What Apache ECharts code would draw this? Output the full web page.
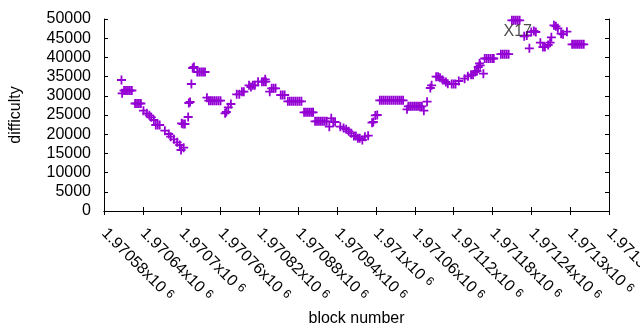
<!DOCTYPE html>
<html>
<head>
<meta charset="utf-8">
<script src="https://cdn.jsdelivr.net/npm/echarts@6/dist/echarts.min.js"></script>
<style>
  html, body { margin: 0; padding: 0; background: #fff; }
  #chart { width: 640px; height: 330px; }
</style>
</head>
<body>
<div id="chart"></div>
<script>
// data: [block number, difficulty]
const blockDifficulty = [
  [1970607, 34115], [1970608, 30650],
  [1970611, 31380], [1970614, 31380], [1970617, 31380], [1970620, 31380], [1970623, 31380],
  [1970628, 27995], [1970631, 27995], [1970634, 27995], [1970637, 27995],
  [1970641, 26120], [1970646, 25440], [1970650, 24920], [1970653, 24400], [1970657, 23700],
  [1970660, 22400], [1970663, 22400], [1970666, 22400],
  [1970674, 20910], [1970680, 20050], [1970683, 19350], [1970688, 18670], [1970693, 17890],
  [1970697, 17190], [1970699, 15890], [1970703, 16490],
  [1970700, 22840], [1970702, 22660], [1970705, 22660], [1970710, 24480], [1970711, 28125],
  [1970713, 28385], [1970715, 33070], [1970717, 37240], [1970719, 37500],
  [1970724, 36200], [1970727, 36200], [1970730, 36200], [1970733, 36200], [1970736, 36200],
  [1970739, 29510],
  [1970742, 28720], [1970745, 28720], [1970748, 28720], [1970751, 28720], [1970754, 28720],
  [1970757, 28720], [1970760, 28720],
  [1970767, 25440], [1970769, 25780], [1970772, 27000], [1970776, 27860],
  [1970785, 30390], [1970789, 30390], [1970793, 31070], [1970796, 31070],
  [1970804, 32730], [1970807, 32290], [1970810, 32730], [1970813, 32730],
  [1970818, 33670], [1970824, 33670], [1970827, 33670], [1970829, 34300], [1970830, 33670],
  [1970836, 31070], [1970839, 31950], [1970842, 31950], [1970845, 31950],
  [1970853, 30210], [1970856, 30210], [1970859, 30210],
  [1970864, 28570], [1970867, 28570], [1970870, 28570], [1970873, 28570], [1970876, 28570],
  [1970879, 28570], [1970882, 28570], [1970885, 28570],
  [1970889, 25700], [1970892, 25700], [1970895, 25700], [1970898, 25700], [1970901, 25700],
  [1970903, 25700],
  [1970906, 23360], [1970909, 23360], [1970912, 23360], [1970915, 23360], [1970918, 23360],
  [1970921, 23360], [1970924, 23360],
  [1970928, 21950], [1970931, 24140], [1970934, 23180], [1970937, 23180],
  [1970945, 21950], [1970950, 21600], [1970954, 21280], [1970958, 20750], [1970962, 20230],
  [1970966, 19530], [1970969, 19530], [1970972, 18930], [1970975, 18930], [1970979, 18490],
  [1970983, 19350], [1970988, 19610],
  [1970994, 23000], [1970996, 23180], [1970999, 24900], [1971002, 25000],
  [1971006, 28830], [1971009, 28830], [1971012, 28830], [1971015, 28830], [1971018, 28830],
  [1971021, 28830], [1971024, 28830], [1971027, 28830], [1971030, 28830], [1971033, 28830],
  [1971036, 28830], [1971039, 28830], [1971042, 28830],
  [1971048, 26480],
  [1971050, 27265], [1971053, 27265], [1971056, 27265], [1971059, 27265], [1971062, 27265],
  [1971065, 27265], [1971068, 27265], [1971071, 27265],
  [1971074, 26120], [1971079, 28465], [1971084, 32030], [1971086, 32730],
  [1971093, 34975], [1971096, 34975], [1971099, 34700], [1971103, 34115],
  [1971108, 33600], [1971111, 33150],
  [1971117, 33070], [1971120, 33070], [1971123, 33070],
  [1971128, 33850], [1971137, 34450], [1971142, 35080], [1971147, 35500], [1971150, 35500],
  [1971153, 36200], [1971156, 36460], [1971158, 37500], [1971161, 37945], [1971160, 38460],
  [1971166, 35755],
  [1971168, 39715], [1971171, 39715], [1971174, 39715], [1971177, 39715], [1971180, 39715],
  [1971182, 39715],
  [1971193, 40830], [1971196, 40830], [1971199, 40830], [1971202, 40830], [1971205, 40830],
  [1971210, 49660], [1971213, 49660], [1971216, 49660], [1971219, 49660], [1971222, 49660],
  [1971229, 45495], [1971233, 45700], [1971237, 42370],
  [1971240, 46615], [1971244, 46875], [1971247, 46615],
  [1971254, 43830], [1971258, 42710], [1971261, 42710], [1971266, 43230], [1971269, 43830],
  [1971271, 45235],
  [1971275, 48360], [1971278, 48100], [1971281, 47580], [1971286, 46170], [1971289, 46000],
  [1971295, 46690],
  [1971303, 43410], [1971306, 43410], [1971309, 43410], [1971312, 43410], [1971315, 43410],
  [1971318, 43410], [1971321, 43410]
];

const xRange = [1970580, 1971360];
const xStep = 60;
const yRange = [0, 50000];
const yStep = 5000;
const annotation = [[1971219, 46690, 'X17']];

const black = '#000';
const purple = '#9400d3';
const plusPath = 'path://M3.6,0H5.4V3.6H9V5.4H5.4V9H3.6V5.4H0V3.6H3.6Z';
const fontFamily = '"Liberation Sans", Arial, sans-serif';

let myChart = echarts.init(document.getElementById('chart'));

const option = {
  animation: false,
  grid: { left: 104, right: 31, top: 19, bottom: 119, outerBoundsMode: 'none', containLabel: false },
  xAxis: [
    {
      type: 'value',
      min: xRange[0],
      max: xRange[1],
      interval: xStep,
      name: 'block number',
      nameLocation: 'middle',
      nameGap: 97,
      nameTextStyle: { color: black, fontSize: 16, fontFamily: fontFamily },
      axisLine: { show: true, lineStyle: { color: black, width: 1 } },
      axisTick: { show: true, inside: true, length: 4, lineStyle: { color: black } },
      splitLine: { show: false },
      axisLabel: {
        rotate: -45,
        margin: 20,
        color: black,
        fontSize: 16,
        fontFamily: fontFamily,
        hideOverlap: false,
        formatter: function (v) {
          const m = parseFloat((v / 1e6).toFixed(5));
          return '{a|' + m + 'x10 }{s|6}';
        },
        rich: {
          a: { fontSize: 16, color: black, fontFamily: fontFamily },
          s: { fontSize: 12, color: black, fontFamily: fontFamily, verticalAlign: 'top' }
        }
      }
    },
    {
      type: 'value',
      position: 'top',
      min: xRange[0],
      max: xRange[1],
      interval: xStep,
      axisLine: { show: true, lineStyle: { color: black, width: 1 } },
      axisTick: { show: true, inside: true, length: 4, lineStyle: { color: black } },
      axisLabel: { show: false },
      splitLine: { show: false }
    }
  ],
  yAxis: [
    {
      type: 'value',
      min: yRange[0],
      max: yRange[1],
      interval: yStep,
      name: 'difficulty',
      nameLocation: 'middle',
      nameGap: 80,
      nameRotate: 90,
      nameTextStyle: { color: black, fontSize: 16, fontFamily: fontFamily },
      axisLine: { show: true, lineStyle: { color: black, width: 1 } },
      axisTick: { show: true, inside: true, length: 4, lineStyle: { color: black } },
      splitLine: { show: false },
      axisLabel: {
        margin: 13,
        color: black,
        fontSize: 16,
        fontFamily: fontFamily,
        formatter: function (v) { return String(v); }
      }
    },
    {
      type: 'value',
      position: 'right',
      min: yRange[0],
      max: yRange[1],
      interval: yStep,
      axisLine: { show: true, lineStyle: { color: black, width: 1 } },
      axisTick: { show: true, inside: true, length: 4, lineStyle: { color: black } },
      axisLabel: { show: false },
      splitLine: { show: false }
    }
  ],
  series: [
    {
      name: 'difficulty',
      type: 'scatter',
      symbol: plusPath,
      symbolSize: 9,
      itemStyle: { color: purple, opacity: 1 },
      data: blockDifficulty
    },
    {
      name: 'label',
      type: 'scatter',
      symbolSize: 0,
      z: 5,
      data: annotation.map(a => [a[0], a[1]]),
      label: {
        show: true,
        position: 'inside',
        formatter: annotation[0][2],
        color: '#222',
        fontSize: 16,
        fontFamily: fontFamily
      }
    }
  ]
};

myChart.setOption(option);
</script>
</body>
</html>
